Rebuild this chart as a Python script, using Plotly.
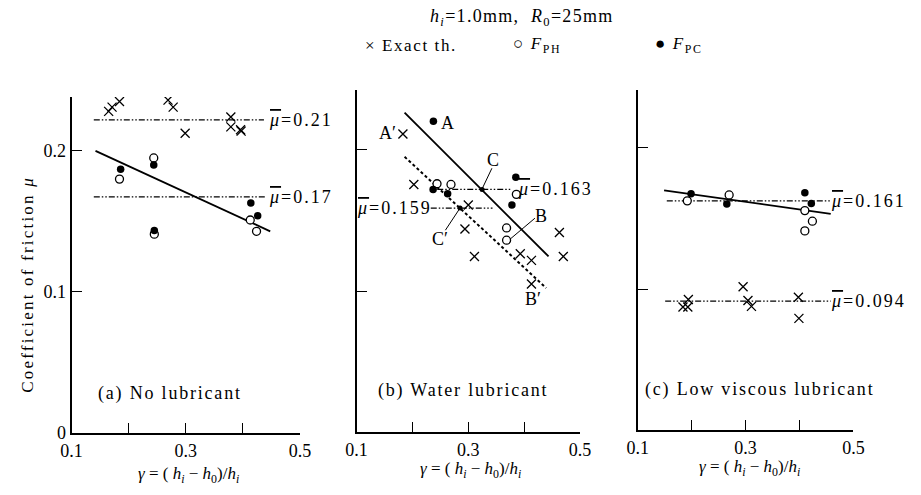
import plotly.graph_objects as go

W, H = 921, 495

# ---------------- data ----------------
# Panel (a) No lubricant
a_exact_x = [0.165, 0.171, 0.184, 0.269, 0.278, 0.299, 0.379, 0.379, 0.396, 0.397]
a_exact_y = [0.228, 0.231, 0.235, 0.236, 0.231, 0.2125, 0.224, 0.217, 0.215, 0.214]
a_ph_x = [0.184, 0.244, 0.245, 0.413, 0.424]
a_ph_y = [0.180, 0.195, 0.141, 0.151, 0.143]
a_pc_x = [0.186, 0.244, 0.245, 0.414, 0.426]
a_pc_y = [0.187, 0.190, 0.1435, 0.163, 0.154]
a_fit_x = [0.142, 0.448]
a_fit_y = [0.200, 0.143]
a_means = [0.222, 0.1674]
a_means_x0 = [0.139, 0.139]
a_means_x1 = [0.437, 0.441]
a_mean_labels = ["0.21", "0.17"]

# Panel (b) Water lubricant
b_exact_x = [0.183, 0.2025, 0.300, 0.294, 0.311, 0.393, 0.413, 0.463, 0.470, 0.413]
b_exact_y = [0.2113, 0.1755, 0.161, 0.144, 0.1245, 0.1264, 0.1217, 0.1415, 0.1245, 0.105]
b_ph_x = [0.244, 0.269, 0.386, 0.3685, 0.3685]
b_ph_y = [0.176, 0.1755, 0.1685, 0.1447, 0.136]
b_pc_x = [0.2375, 0.237, 0.263, 0.385, 0.378]
b_pc_y = [0.2204, 0.172, 0.169, 0.1806, 0.161]
b_fit_x = [0.186, 0.4436]          # solid line A-C-B
b_fit_y = [0.2264, 0.1245]
b_fit2_x = [0.186, 0.4394]         # dotted line A'-C'-B'
b_fit2_y = [0.1951, 0.1021]
b_means = [0.172, 0.1588]
b_means_x0 = [0.2444, 0.2328]
b_means_x1 = [0.3755, 0.3433]
b_mean_labels = ["0.163", "0.159"]
b_cross_pts_x = [0.3247, 0.2852]   # C and C'
b_cross_pts_y = [0.172, 0.1588]

# Panel (c) Low viscous lubricant
c_exact_x = [0.184, 0.193, 0.194, 0.2955, 0.3045, 0.311, 0.398, 0.399]
c_exact_y = [0.0873, 0.0873, 0.0926, 0.1016, 0.0919, 0.0877, 0.0942, 0.0792]
c_ph_x = [0.192, 0.2696, 0.410, 0.424, 0.410]
c_ph_y = [0.1625, 0.1667, 0.1556, 0.1481, 0.1412]
c_pc_x = [0.199, 0.2653, 0.410, 0.422]
c_pc_y = [0.1676, 0.1602, 0.1683, 0.1606]
c_fit_x = [0.149, 0.458]
c_fit_y = [0.170, 0.1533]
c_means = [0.1625, 0.0915]
c_means_x0 = [0.154, 0.151]
c_means_x1 = [0.458, 0.458]
c_mean_labels = ["0.161", "0.094"]

x_tickvals = [0.1, 0.2, 0.3, 0.4, 0.5]
x_ticktext = ["0.1", "", "0.3", "", "0.5"]
y_tickvals = [0, 0.1, 0.2]
y_ticktext = ["0", "0.1", "0.2"]

panel_titles = ["(a) No lubricant", "(b) Water lubricant", "(c) Low viscous lubricant"]

# ---------------- figure ----------------
SERIF = "Liberation Serif, Times New Roman, DejaVu Serif, serif"
fig = go.Figure()

MEAN_DASH = "6px,2px,1.5px,2px,1.5px,2px"


def spaced(txt, px):
    return f"<span style='letter-spacing:{px}px'>{txt}</span>"


def add_panel(n, ex, ey, phx, phy, pcx, pcy, fx, fy, means, mx0, mx1):
    xa = "x" if n == 1 else f"x{n}"
    ya = "y" if n == 1 else f"y{n}"
    for m, x0, x1 in zip(means, mx0, mx1):
        fig.add_trace(go.Scatter(x=[x0, x1], y=[m, m], mode="lines", xaxis=xa, yaxis=ya,
                                 line=dict(color="black", width=1.2, dash=MEAN_DASH),
                                 showlegend=False, hoverinfo="skip"))
    fig.add_trace(go.Scatter(x=fx, y=fy, mode="lines", xaxis=xa, yaxis=ya,
                             line=dict(color="black", width=1.8), showlegend=False))
    fig.add_trace(go.Scatter(x=ex, y=ey, mode="markers", xaxis=xa, yaxis=ya, name="Exact th.",
                             marker=dict(symbol="x-thin", size=9, line=dict(color="black", width=1.3)),
                             showlegend=False))
    fig.add_trace(go.Scatter(x=phx, y=phy, mode="markers", xaxis=xa, yaxis=ya, name="F_PH",
                             marker=dict(symbol="circle", size=8, color="white",
                                         line=dict(color="black", width=1.3)),
                             showlegend=False))
    fig.add_trace(go.Scatter(x=pcx, y=pcy, mode="markers", xaxis=xa, yaxis=ya, name="F_PC",
                             marker=dict(symbol="circle", size=7.5, color="black"),
                             showlegend=False))


add_panel(1, a_exact_x, a_exact_y, a_ph_x, a_ph_y, a_pc_x, a_pc_y, a_fit_x, a_fit_y,
          a_means, a_means_x0, a_means_x1)
fig.add_trace(go.Scatter(x=b_fit2_x, y=b_fit2_y, mode="lines", xaxis="x2", yaxis="y2",
                         line=dict(color="black", width=2, dash="3px,2.5px"), showlegend=False))
add_panel(2, b_exact_x, b_exact_y, b_ph_x, b_ph_y, b_pc_x, b_pc_y, b_fit_x, b_fit_y,
          b_means, b_means_x0, b_means_x1)
fig.add_trace(go.Scatter(x=b_cross_pts_x, y=b_cross_pts_y, mode="markers", xaxis="x2", yaxis="y2",
                         marker=dict(symbol="circle", size=5, color="black"), showlegend=False))
add_panel(3, c_exact_x, c_exact_y, c_ph_x, c_ph_y, c_pc_x, c_pc_y, c_fit_x, c_fit_y,
          c_means, c_means_x0, c_means_x1)

# ---------------- axes ----------------
def px_x(p):
    return p / W


def px_y(p):
    return 1 - p / H


axis_common = dict(showline=True, linecolor="black", linewidth=2, ticks="inside", ticklen=10,
                   tickwidth=1.4, tickcolor="black", showgrid=False, zeroline=False,
                   tickfont=dict(family=SERIF, size=18, color="black"))

xdom = [[62, 296], [354, 583], [642, 863]]
ybot = [442, 441, 439]
ytop = [99, 92, 92]
for i in range(3):
    sfx = "" if i == 0 else str(i + 1)
    fig.update_layout(**{
        f"xaxis{sfx}": dict(axis_common, domain=[px_x(xdom[i][0]), px_x(xdom[i][1])],
                            range=[0.1, 0.5], tickvals=x_tickvals, ticktext=x_ticktext,
                            anchor=f"y{sfx}"),
        f"yaxis{sfx}": dict(axis_common, domain=[px_y(ybot[i]), px_y(ytop[i])],
                            range=[0, (ybot[i] - ytop[i]) / 1440.0],
                            tickvals=y_tickvals if i == 0 else [0.1, 0.2],
                            ticktext=y_ticktext if i == 0 else ["", ""],
                            showticklabels=(i == 0), anchor=f"x{sfx}"),
    })

# ---------------- annotations ----------------
ann = []
TF = dict(family=SERIF, size=18, color="black")


def mu_label(val):
    return spaced("<span style='text-decoration:overline'><i>μ</i></span>=" + val, 2)


for m, lab in zip(a_means, a_mean_labels):
    ann.append(dict(x=1.006, y=m, xref="x domain", yref="y", text=mu_label(lab), showarrow=False,
                    xanchor="center", yanchor="middle", font=TF))
ann.append(dict(x=0.889, y=b_means[0], xref="x2 domain", yref="y2", text=mu_label(b_mean_labels[0]),
                showarrow=False, xanchor="center", yanchor="middle", font=TF))
ann.append(dict(x=0.168, y=b_means[1], xref="x2 domain", yref="y2", text=mu_label(b_mean_labels[1]),
                showarrow=False, xanchor="center", yanchor="middle", font=TF))
for m, lab in zip(c_means, c_mean_labels):
    ann.append(dict(x=1.072, y=m, xref="x3 domain", yref="y3", text=mu_label(lab), showarrow=False,
                    xanchor="center", yanchor="middle", font=TF))

for txt, x, y, xa in [("A", 0.2619, 0.2194, "center"), ("A′", 0.1745, 0.2118, "right"),
                      ("C", 0.3433, 0.1928, "center"), ("B", 0.4307, 0.1529, "center"),
                      ("C′", 0.2491, 0.1367, "center"), ("B′", 0.4162, 0.0944, "center")]:
    ann.append(dict(x=x, y=y, xref="x2", yref="y2", text=txt, showarrow=False, xanchor=xa,
                    yanchor="middle", font=TF))

PF = dict(family=SERIF, size=18, color="black")
for i, (x, y) in enumerate([(0.2718, 0.0278), (0.2904, 0.0292), (0.3253, 0.0285)]):
    sfx = "" if i == 0 else str(i + 1)
    ann.append(dict(x=x, y=y, xref=f"x{sfx}", yref=f"y{sfx}", text=spaced(panel_titles[i], 1.8),
                    showarrow=False, xanchor="center", yanchor="middle", font=PF))

gamma = "<i>γ</i> = ( <i>h<sub>i</sub></i> − <i>h</i><sub>0</sub>)/<i>h<sub>i</sub></i>"
for cx, cy in [(182, 485), (471, 480), (757, 478)]:
    ann.append(dict(x=px_x(cx), y=px_y(cy), xref="paper", yref="paper", text=gamma,
                    showarrow=False, xanchor="center", yanchor="middle",
                    font=dict(family=SERIF, size=17, color="black")))

ann.append(dict(x=px_x(17), y=px_y(290), xref="paper", yref="paper",
                text=spaced("Coefficient of friction <i>μ</i>", 2.2), textangle=-90, showarrow=False,
                xanchor="center", yanchor="middle", font=dict(family=SERIF, size=17, color="black")))

ann.append(dict(x=px_x(523), y=px_y(18), xref="paper", yref="paper",
                text=spaced("<i>h<sub>i</sub></i>=1.0mm,  <i>R</i><sub>0</sub>=25mm", 1.3),
                showarrow=False, xanchor="center", yanchor="middle",
                font=dict(family=SERIF, size=18, color="black")))
for txt, x in [("× Exact th.", 410), ("○ <i>F</i><sub>PH</sub>", 539), ("● <i>F</i><sub>PC</sub>", 684)]:
    ann.append(dict(x=px_x(x), y=px_y(46), xref="paper", yref="paper", text=spaced(txt, 1.6),
                    showarrow=False, xanchor="center", yanchor="middle",
                    font=dict(family=SERIF, size=17, color="black")))

shapes = []
for (x0, y0, x1, y1) in [(0.3422, 0.187, 0.3247, 0.1724), (0.4192, 0.1516, 0.3749, 0.1368),
                         (0.259, 0.1431, 0.2852, 0.1588)]:
    shapes.append(dict(type="line", xref="x2", yref="y2", x0=x0, y0=y0, x1=x1, y1=y1,
                       line=dict(color="black", width=1)))

fig.update_layout(width=W, height=H, margin=dict(l=0, r=0, t=0, b=0),
                  paper_bgcolor="white", plot_bgcolor="white", annotations=ann, shapes=shapes,
                  showlegend=False, font=dict(family=SERIF, color="black"))

fig.write_html("out.html")
